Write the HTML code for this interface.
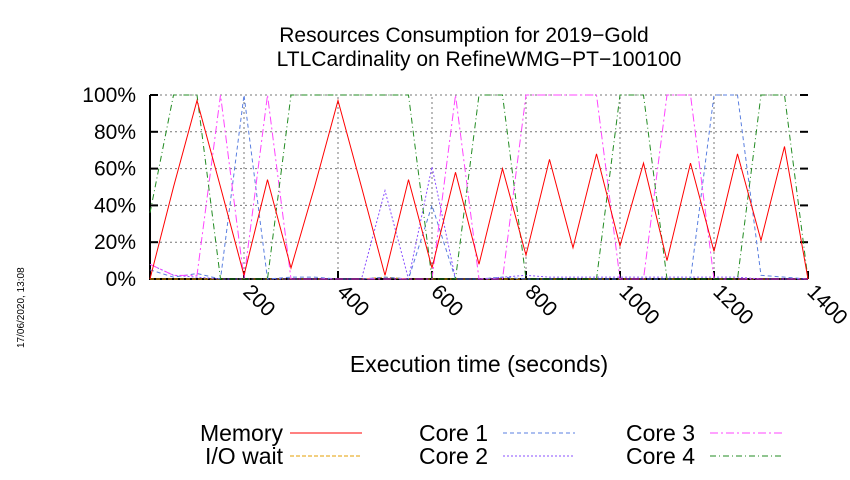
<!DOCTYPE html>
<html><head><meta charset="utf-8"><style>
body{margin:0;background:#fff;}
svg{font-family:"Liberation Sans",sans-serif;}
</style></head><body>
<svg id="chart" width="850" height="475" viewBox="0 0 850 475">
<text x="464" y="42" text-anchor="middle" font-size="21">Resources Consumption for 2019−Gold</text>
<text x="479" y="66" text-anchor="middle" font-size="21">LTLCardinality on RefineWMG−PT−100100</text>
<text transform="translate(24,348) rotate(-90)" font-size="10">17/06/2020, 13:08</text>
<text x="479" y="372" text-anchor="middle" font-size="23">Execution time (seconds)</text>
<g id="grid"></g><g id="axes"></g><g id="series"></g><g id="legend"></g>
</svg>
<script>
const times=[0,50,100,150,200,250,300,350,400,450,500,550,600,650,700,750,800,850,900,950,1000,1050,1100,1150,1200,1250,1300,1350,1400];
const memory=[0,50,97,50,2,54,6,50,97,50,2,54,6,58,8,60,13,65,17,68,18,63,10,63,15,68,21,72,0];
const ioWait=[0,0,0,0,0,0,0,0,0,0,1,0,0,0,0,0,0,0,0,0,0,0,0,0,0,0,0,0,0];
const core1=[5,1,3,0,100,0,1,1,0,0,1,0,40,0,0,1,0,0,0,0,0,0,0,0,100,100,2,1,0];
const core2=[8,2,1,0,0,0,0,0,0,0,48,0,61,0,0,1,2,1,1,1,1,1,1,1,1,1,0,0,0];
const core3=[8,2,2,100,0,100,0,0,0,0,0,0,0,100,0,0,100,100,100,100,0,0,100,100,0,0,0,0,0];
const core4=[36,100,100,0,0,0,100,100,100,100,100,100,0,0,100,100,0,0,0,0,100,100,0,0,0,0,100,100,0];
const yTicks=[0,20,40,60,80,100];
const xTicks=[200,400,600,800,1000,1200,1400];
const NS="http://www.w3.org/2000/svg";
const X0=150,X1=808,Y0=279,Y1=95;
const xs=t=>X0+t/1400*(X1-X0);
const ys=v=>Y0-v/100*(Y0-Y1);
function mk(tag,at,parent){const e=document.createElementNS(NS,tag);for(const k in at)e.setAttribute(k,at[k]);document.getElementById(parent).appendChild(e);return e;}
yTicks.forEach(v=>{
  if(v>0&&v<100){const l=mk('line',{x1:X0,x2:X1,y1:ys(v),y2:ys(v),stroke:'#777','stroke-dasharray':'2,3','stroke-width':1},'grid');
  
  }
  const t=mk('text',{x:136,y:ys(v)+7,'text-anchor':'end','font-size':21},'axes');t.textContent=v+'%';
  
  
  const k=mk('line',{x1:X0,x2:X0+8,y1:ys(v),y2:ys(v),stroke:'#000','stroke-width':2},'axes');
  
  
  const k2=mk('line',{x1:X1-8,x2:X1,y1:ys(v),y2:ys(v),stroke:'#000','stroke-width':2},'axes');
  
  
});
const tg=mk('line',{x1:X0,x2:X1,y1:Y1,y2:Y1,stroke:'#777','stroke-dasharray':'2,3'},'grid');


xTicks.forEach(v=>{
  if(v<1400){const l=mk('line',{x1:xs(v),x2:xs(v),y1:Y0,y2:Y1,stroke:'#777','stroke-dasharray':'2,3','stroke-width':1},'grid');
  
  }
  const k=mk('line',{x1:xs(v),x2:xs(v),y1:Y0,y2:Y0-8,stroke:'#000','stroke-width':2},'axes');
  
  
  const t=mk('text',{transform:`translate(${xs(v)-2},${Y0+14}) rotate(45)`,'font-size':21},'axes');t.textContent=v;
  
  
});
const ax=mk('path',{d:`M${X0},${Y1}V${Y0}H${X1}`,fill:'none',stroke:'#000','stroke-width':2},'axes');


const ser=[
 ['Memory',memory,'#ff0000','',290,433,283],
 ['I/O wait',ioWait,'#e69f00','4,2',290,456,283],
 ['Core 1',core1,'#5a7fe0','4,3',503,433,488],
 ['Core 2',core2,'#8a4fff','2,2',503,456,488],
 ['Core 3',core3,'#ff44ff','8,3,2,3',710,433,695],
 ['Core 4',core4,'#228b22','6,3,1,3',710,456,695]];
const order=[1,3,2,4,5,0];
order.forEach(i=>{const s=ser[i];
  const p=mk('polyline',{points:times.map((t,j)=>xs(t)+','+ys(s[1][j])).join(' '),fill:'none',stroke:s[2],'stroke-width':1,'stroke-dasharray':s[3]},'series');
  
  
});
ser.forEach(s=>{
  const t=mk('text',{x:s[6],y:s[5]+8,'text-anchor':'end','font-size':23},'legend');t.textContent=s[0];
  
  
  const l=mk('line',{x1:s[4],x2:s[4]+72,y1:s[5],y2:s[5],stroke:s[2],'stroke-dasharray':s[3]},'legend');
  
  
});
</script>
</body></html>
